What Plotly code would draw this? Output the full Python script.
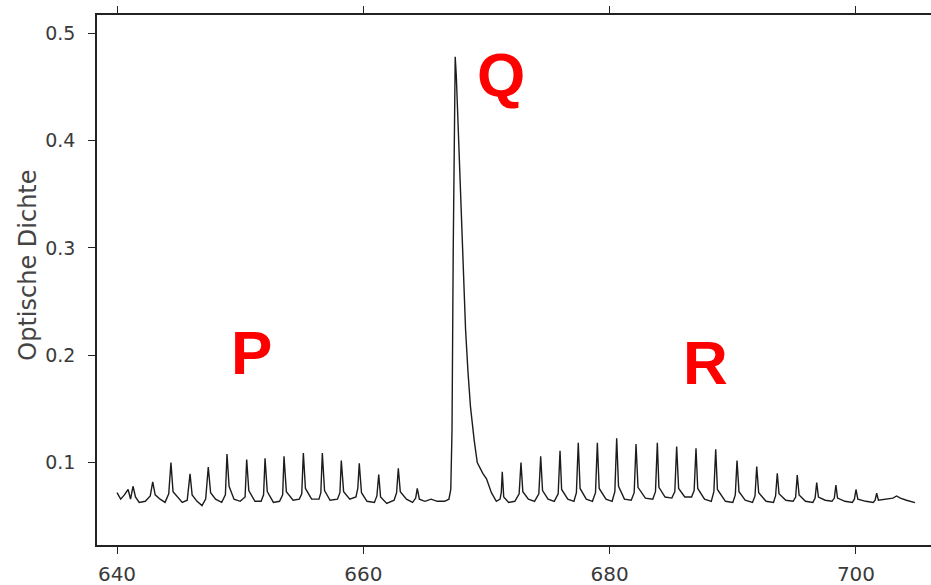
import plotly.graph_objects as go

# Spectrum: wavenumber (x) and optical density (y)
wavenumber = [
    640.0, 640.3, 640.6, 640.9, 641.1, 641.3, 641.5, 641.8, 642.3, 642.7,
    642.9, 643.1, 643.5, 643.9, 644.2, 644.38, 644.55, 644.9, 645.3, 645.7,
    645.93, 646.1, 646.5, 646.9, 647.2, 647.41, 647.6, 648.0, 648.5, 648.8,
    648.93, 649.1, 649.5, 650.0, 650.4, 650.53, 650.7, 651.2, 651.7, 651.9,
    652.02, 652.2, 652.7, 653.2, 653.45, 653.56, 653.75, 654.3, 654.8, 655.0,
    655.13, 655.3, 655.8, 656.4, 656.55, 656.67, 656.85, 657.3, 657.9, 658.1,
    658.21, 658.4, 658.9, 659.4, 659.55, 659.67, 659.85, 660.3, 660.9, 661.1,
    661.25, 661.4, 661.9, 662.5, 662.7, 662.84, 663.0, 663.5, 664.0, 664.25,
    664.38, 664.55, 665.0, 665.5, 666.0, 666.6, 666.95, 667.1, 667.2, 667.3,
    667.4, 667.46, 667.55, 667.65, 667.75, 667.95, 668.1, 668.3, 668.5, 668.7,
    669.0, 669.25, 669.7, 670.0, 670.4, 670.8, 671.1, 671.2, 671.28, 671.4,
    671.8, 672.3, 672.65, 672.8, 672.95, 673.4, 673.9, 674.25, 674.4, 674.55,
    675.0, 675.5, 675.82, 675.97, 676.1, 676.6, 677.1, 677.3, 677.45, 677.6,
    678.1, 678.6, 678.85, 679.0, 679.15, 679.7, 680.2, 680.42, 680.57, 680.72,
    681.2, 681.75, 681.99, 682.14, 682.3, 682.9, 683.5, 683.72, 683.87, 684.0,
    684.5, 685.05, 685.29, 685.44, 685.6, 686.1, 686.65, 686.86, 687.01, 687.15,
    687.7, 688.25, 688.46, 688.61, 688.75, 689.4, 690.0, 690.2, 690.34, 690.5,
    691.0, 691.6, 691.8, 691.94, 692.1, 692.7, 693.3, 693.47, 693.61, 693.75,
    694.3, 694.9, 695.1, 695.23, 695.38, 695.9, 696.5, 696.68, 696.81, 696.95,
    697.5, 698.05, 698.24, 698.37, 698.5, 699.1, 699.7, 699.87, 700.0, 700.15,
    700.8, 701.4, 701.55, 701.68, 701.82, 702.4, 703.0, 703.3, 703.6, 704.1,
    704.5, 704.79,
]
optical_density = [
    0.072, 0.066, 0.070, 0.075, 0.066, 0.078, 0.068, 0.063, 0.064, 0.069,
    0.082, 0.070, 0.066, 0.063, 0.071, 0.100, 0.073, 0.068, 0.063, 0.065,
    0.0895, 0.070, 0.064, 0.060, 0.066, 0.096, 0.072, 0.066, 0.063, 0.070,
    0.108, 0.078, 0.066, 0.064, 0.068, 0.103, 0.074, 0.064, 0.064, 0.070,
    0.104, 0.073, 0.063, 0.064, 0.070, 0.106, 0.073, 0.065, 0.066, 0.071,
    0.109, 0.076, 0.066, 0.066, 0.072, 0.109, 0.074, 0.065, 0.066, 0.072,
    0.102, 0.073, 0.066, 0.068, 0.076, 0.0995, 0.072, 0.064, 0.063, 0.069,
    0.089, 0.068, 0.062, 0.065, 0.072, 0.0948, 0.073, 0.066, 0.063, 0.067,
    0.076, 0.066, 0.064, 0.066, 0.064, 0.064, 0.066, 0.075, 0.130, 0.300,
    0.450, 0.478, 0.460, 0.430, 0.400, 0.338, 0.283, 0.224, 0.184, 0.152,
    0.121, 0.100, 0.090, 0.085, 0.072, 0.064, 0.066, 0.072, 0.0916, 0.068,
    0.063, 0.064, 0.071, 0.100, 0.073, 0.066, 0.064, 0.071, 0.106, 0.074,
    0.066, 0.064, 0.071, 0.111, 0.075, 0.066, 0.064, 0.072, 0.1186, 0.076,
    0.066, 0.064, 0.072, 0.1186, 0.076, 0.066, 0.064, 0.073, 0.1227, 0.078,
    0.066, 0.065, 0.072, 0.1174, 0.077, 0.067, 0.066, 0.073, 0.1186, 0.077,
    0.068, 0.067, 0.073, 0.115, 0.076, 0.068, 0.068, 0.074, 0.1134, 0.076,
    0.066, 0.064, 0.073, 0.1125, 0.075, 0.064, 0.063, 0.070, 0.102, 0.073,
    0.065, 0.063, 0.069, 0.0963, 0.072, 0.064, 0.063, 0.069, 0.090, 0.071,
    0.065, 0.064, 0.068, 0.0885, 0.070, 0.064, 0.063, 0.067, 0.0814, 0.068,
    0.065, 0.064, 0.067, 0.079, 0.067, 0.064, 0.063, 0.066, 0.075, 0.066,
    0.064, 0.063, 0.065, 0.0715, 0.065, 0.066, 0.067, 0.069, 0.067, 0.065,
    0.064, 0.0627,
]

x_ticks = [640, 660, 680, 700]
y_ticks = [0.1, 0.2, 0.3, 0.4, 0.5]
y_tick_text = ["0.1", "0.2", "0.3", "0.4", "0.5"]

branch_labels = ["P", "Q", "R"]
branch_x = [650.96, 671.18, 687.82]
branch_y = [0.203, 0.462, 0.193]

fig = go.Figure()
fig.add_trace(go.Scatter(
    x=wavenumber, y=optical_density, mode="lines",
    line=dict(color="#1c1c1c", width=1.4),
    showlegend=False, hoverinfo="skip",
))

for t, bx, by in zip(branch_labels, branch_x, branch_y):
    fig.add_annotation(
        x=bx, y=by, xref="x", yref="y", text=t, showarrow=False,
        font=dict(family="Liberation Sans, Arial", size=62, color="#ff0000", weight="bold"),
        xanchor="center", yanchor="middle",
    )

fig.add_annotation(
    x=-0.0827, y=0.527, xref="paper", yref="paper", text="Optische Dichte",
    textangle=-90, showarrow=False,
    font=dict(family="DejaVu Sans", size=24, color="#444444"),
    xanchor="center", yanchor="middle",
)

fig.update_layout(
    width=931, height=585,
    margin=dict(l=97, r=0, t=15, b=40),
    paper_bgcolor="white", plot_bgcolor="white",
    xaxis=dict(
        range=[638.376, 706.09], tickvals=x_ticks,
        ticktext=[str(v) for v in x_ticks],
        showgrid=False, zeroline=False,
        showline=True, linecolor="#222222", linewidth=1.5, mirror="ticks",
        ticks="outside", ticklen=7, tickwidth=1.3, tickcolor="#222222",
        tickfont=dict(family="DejaVu Sans", size=20, color="#3a3a3a"),
        ticklabelstandoff=3,
    ),
    yaxis=dict(
        range=[0.0233, 0.517], tickvals=y_ticks, ticktext=y_tick_text,
        showgrid=False, zeroline=False,
        showline=True, linecolor="#222222", linewidth=1.5,
        ticks="outside", ticklen=7, tickwidth=1.3, tickcolor="#222222",
        tickfont=dict(family="DejaVu Sans", size=19, color="#3a3a3a"),
        ticklabelstandoff=9,
    ),
)

fig.write_html("out.html")
